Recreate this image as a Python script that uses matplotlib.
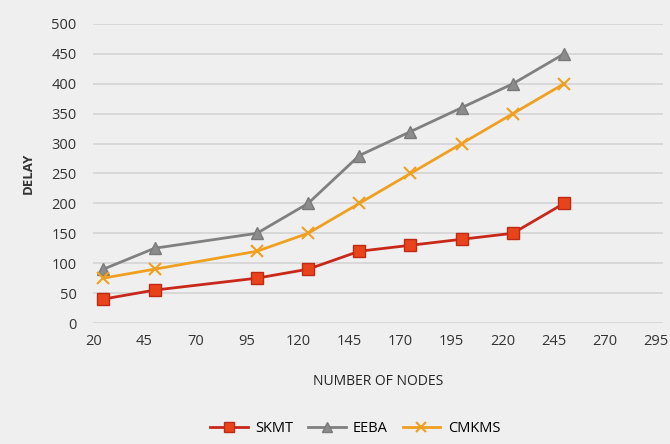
import matplotlib
matplotlib.use('Agg')
import matplotlib.pyplot as plt

nodes = [25, 50, 100, 125, 150, 175, 200, 225, 250]
skmt = [40, 55, 75, 90, 120, 130, 140, 150, 200]
eeba = [90, 125, 150, 200, 280, 320, 360, 400, 450]
cmkms = [75, 90, 120, 150, 200, 250, 300, 350, 400]
x_ticks = [20, 45, 70, 95, 120, 145, 170, 195, 220, 245, 270, 295]
y_ticks = [0, 50, 100, 150, 200, 250, 300, 350, 400, 450, 500]

plt.rcParams['font.family'] = ['Open Sans', 'DejaVu Sans']

bg = '#efefef'
fig = plt.figure(figsize=(6.7, 4.44), dpi=100, facecolor=bg)
ax = fig.add_axes([0.139, 0.2725, 0.851, 0.6735], facecolor=bg)

ax.plot(nodes, skmt, color='#c8281a', lw=2, marker='s', markersize=9,
        markerfacecolor='#e8431a', markeredgecolor='#c02a14', label='SKMT', zorder=3)
ax.plot(nodes, eeba, color='#808080', lw=2, marker='^', markersize=9,
        markerfacecolor='#8c8c8c', markeredgecolor='#7a7a7a', label='EEBA', zorder=3)
ax.plot(nodes, cmkms, color='#f0a020', lw=2, marker='x', markersize=9,
        markeredgewidth=1.5, label='CMKMS', zorder=3)

ax.set_xlim(20, 298.5)
ax.set_ylim(0, 500)
ax.set_xticks(x_ticks)
ax.set_yticks(y_ticks)
ax.tick_params(axis='x', labelsize=10.5, length=0, pad=8, colors='#333333')
ax.tick_params(axis='y', labelsize=10.5, length=0, pad=12, colors='#333333')
ax.grid(axis='y', color='#d4d4d4', lw=1.2)
ax.set_axisbelow(True)
for s in ax.spines.values():
    s.set_visible(False)

ax.set_ylabel('DELAY', fontsize=9.5, fontweight='bold', color='#333333', labelpad=12)
ax.set_xlabel('NUMBER OF NODES', fontsize=10, color='#222222', labelpad=18)

fig.legend(loc='lower center', bbox_to_anchor=(0.53, -0.012), ncol=3, frameon=False,
           fontsize=10.5, handlelength=2.6, columnspacing=1.0, handletextpad=0.5,
           markerscale=0.8)

fig.savefig('out.png', dpi=100, facecolor=bg)
